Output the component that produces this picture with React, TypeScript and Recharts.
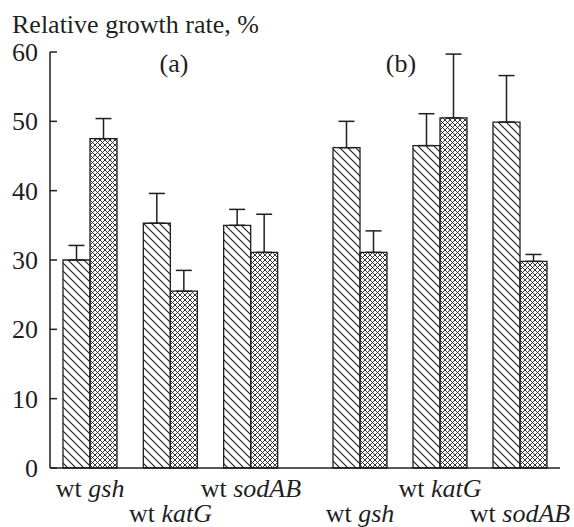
import { BarChart, Bar, XAxis, YAxis, ErrorBar } from 'recharts';

// strains compared with wild type (wt) in each panel
const mutants = ['gsh', 'katG', 'sodAB'];
const yTicks = [0, 10, 20, 30, 40, 50, 60];

// panel (a)
const wtA = [30.0, 35.3, 35.0];
const wtErrA = [2.1, 4.3, 2.3];
const mutA = [47.5, 25.5, 31.1];
const mutErrA = [2.9, 3.0, 5.5];

// panel (b)
const wtB = [46.2, 46.5, 49.9];
const wtErrB = [3.8, 4.6, 6.7];
const mutB = [31.1, 50.5, 29.8];
const mutErrB = [3.1, 9.2, 1.0];

const FONT = '"Liberation Serif", "Times New Roman", serif';
const INK = '#1f1f1f';
const FS = 26;

const buildRows = (wt: number[], wtErr: number[], mut: number[], mutErr: number[]) =>
    mutants.map((name, i) => ({
        name,
        wt: wt[i],
        wtErr: [0, wtErr[i]],
        mut: mut[i],
        mutErr: [0, mutErr[i]],
    }));

const dataA = buildRows(wtA, wtErrA, mutA, mutErrA);
const dataB = buildRows(wtB, wtErrB, mutB, mutErrB);

function YTick({ x, y, payload }: any) {
    return (
        <g>
            <line x1={x + 12} x2={x + 19} y1={y} y2={y} stroke={INK} strokeWidth={1.5} />
            <text x={x} y={y} dy="0.35em" textAnchor="end" fontFamily={FONT} fontSize={FS} fill={INK}>
                {payload.value}
            </text>
        </g>
    );
}

function makeXTick(offsetRow: number) {
    return ({ x, y, payload, index }: any) => {
        const row = (index + offsetRow) % 2;
        return (
            <text x={x} y={y + (row === 0 ? 29 : 54)} textAnchor="middle" fontFamily={FONT} fontSize={FS} fill={INK}>
                <tspan>wt </tspan>
                <tspan fontStyle="italic">{payload.value}</tspan>
            </text>
        );
    };
}

function Patterns({ prefix }: { prefix: string }) {
    return (
        <defs>
            <pattern id={`${prefix}-hatch`} patternUnits="userSpaceOnUse" width={8} height={8}>
                <path d="M0,0 L8,8 M-2,6 L2,10 M6,-2 L10,2" stroke={INK} strokeWidth={1.2} />
            </pattern>
            <pattern id={`${prefix}-cross`} patternUnits="userSpaceOnUse" width={5} height={5}>
                <path d="M0,0 L5,5 M5,0 L0,5" stroke={INK} strokeWidth={0.9} />
            </pattern>
        </defs>
    );
}

function Panel({ data, prefix, width, margin, padRight, showY, rowOffset }: any) {
    return (
        <BarChart width={width} height={527} data={data} margin={margin} barGap={0} barSize={27}>
            <Patterns prefix={prefix} />
            <XAxis
                dataKey="name"
                height={59}
                interval={0}
                tickLine={false}
                tickSize={0}
                tickMargin={0}
                padding={{ left: 0, right: padRight }}
                axisLine={{ stroke: INK, strokeWidth: 1.5 }}
                tick={makeXTick(rowOffset)}
            />
            <YAxis
                hide={!showY}
                width={50}
                domain={[0, 60]}
                ticks={yTicks}
                interval={0}
                tickLine={false}
                tickSize={0}
                tickMargin={12}
                axisLine={{ stroke: INK, strokeWidth: 1.5 }}
                tick={<YTick />}
            />
            <Bar dataKey="wt" fill={`url(#${prefix}-hatch)`} stroke={INK} strokeWidth={1.3} isAnimationActive={false}>
                <ErrorBar dataKey="wtErr" direction="y" width={8} stroke={INK} strokeWidth={1.5} isAnimationActive={false} />
            </Bar>
            <Bar dataKey="mut" fill={`url(#${prefix}-cross)`} stroke={INK} strokeWidth={1.3} isAnimationActive={false}>
                <ErrorBar dataKey="mutErr" direction="y" width={8} stroke={INK} strokeWidth={1.5} isAnimationActive={false} />
            </Bar>
        </BarChart>
    );
}

export default function App() {
    return (
        <div style={{ position: 'absolute', left: 0, top: 0, width: 574, height: 527, background: '#fff' }}>
            <div style={{ position: 'absolute', left: 0, top: 0 }}>
                <Panel
                    data={dataA}
                    prefix="pa"
                    width={320}
                    margin={{ top: 52, right: 0, bottom: 0, left: 0 }}
                    padRight={29}
                    showY
                    rowOffset={0}
                />
            </div>
            <div style={{ position: 'absolute', left: 320, top: 0 }}>
                <Panel
                    data={dataB}
                    prefix="pb"
                    width={254}
                    margin={{ top: 52, right: 14, bottom: 0, left: 0 }}
                    padRight={0}
                    showY={false}
                    rowOffset={1}
                />
            </div>
            <svg width={574} height={527} style={{ position: 'absolute', left: 0, top: 0, pointerEvents: 'none' }}>
                <text x={12} y={33} fontFamily={FONT} fontSize={FS} fill={INK}>
                    Relative growth rate, %
                </text>
                <text x={174} y={72} textAnchor="middle" fontFamily={FONT} fontSize={FS} fill={INK}>
                    (a)
                </text>
                <text x={401} y={72} textAnchor="middle" fontFamily={FONT} fontSize={FS} fill={INK}>
                    (b)
                </text>
            </svg>
        </div>
    );
}
